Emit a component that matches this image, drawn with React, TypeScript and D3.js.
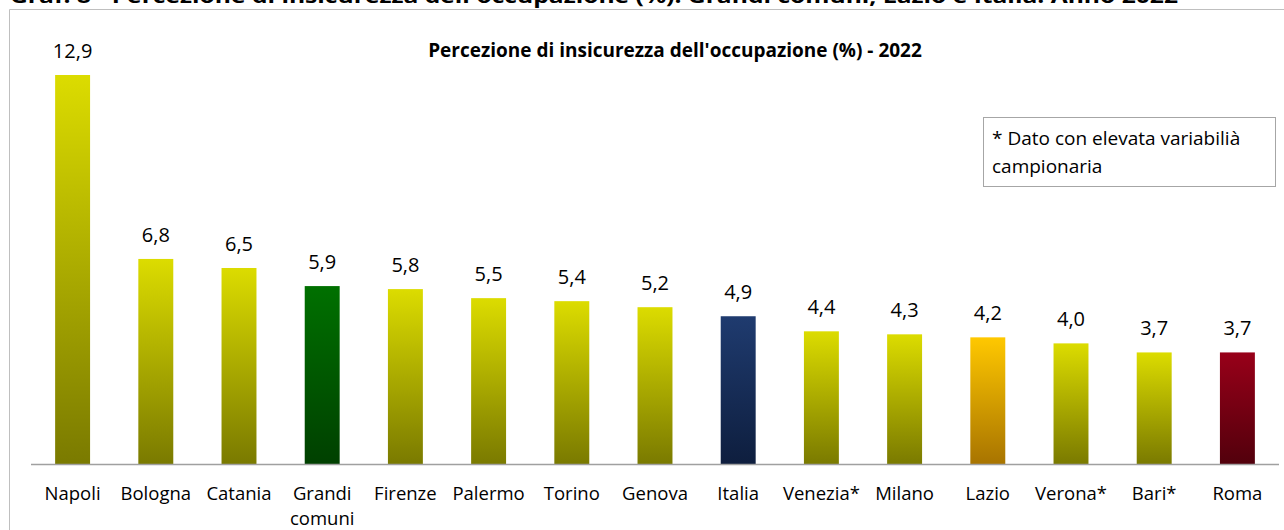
import React from "react";
import * as d3 from "d3";

const categories = ["Napoli", "Bologna", "Catania", "Grandi comuni", "Firenze", "Palermo", "Torino", "Genova", "Italia", "Venezia*", "Milano", "Lazio", "Verona*", "Bari*", "Roma"];
const values = [12.9, 6.8, 6.5, 5.9, 5.8, 5.5, 5.4, 5.2, 4.9, 4.4, 4.3, 4.2, 4.0, 3.7, 3.7];
const colorKeys = ["city", "city", "city", "grandi", "city", "city", "city", "city", "italia", "city", "city", "lazio", "city", "city", "roma"];

const gradients: Record<string, [string, string]> = {
  city: ["#DCDC00", "#7A7A00"],
  grandi: ["#007000", "#004000"],
  italia: ["#1F3B6F", "#0E1E3E"],
  lazio: ["#FFC800", "#A87400"],
  roma: ["#980019", "#52000C"],
};

const W = 1284;
const H = 530;
const FONT = "'Open Sans', 'Noto Sans', sans-serif";

export default function App() {
  const x = d3.scaleBand<string>().domain(categories).range([31, 1279]).paddingInner(0.58).paddingOuter(0.29);
  const baseY = 464;
  const y = d3.scaleLinear().domain([0, 12.9]).range([baseY, 75]);
  const fmt = (v: number) => v.toFixed(1).replace(".", ",");

  return (
    <svg width={W} height={H} style={{ position: "absolute", left: 0, top: 0, background: "#fff" }} fontFamily={FONT}>
      <defs>
        {Object.entries(gradients).map(([k, [c1, c2]]) => (
          <linearGradient key={k} id={`g-${k}`} x1="0" y1="0" x2="0" y2="1">
            <stop offset="0" stopColor={c1} />
            <stop offset="1" stopColor={c2} />
          </linearGradient>
        ))}
      </defs>
      <rect x={0} y={0} width={W} height={H} fill="#fff" />
      <text x={10} y={3} fontSize={20} fontWeight="bold" textLength={1168} lengthAdjust="spacingAndGlyphs" fill="#000">
        Graf. 8 - Percezione di insicurezza dell'occupazione (%). Grandi comuni, Lazio e Italia. Anno 2022
      </text>
      <line x1={9.5} y1={9.5} x2={W} y2={9.5} stroke="#BFBFBF" strokeWidth={1} />
      <line x1={9.5} y1={9.5} x2={9.5} y2={H} stroke="#BFBFBF" strokeWidth={1} />

      <text x={675} y={57} textAnchor="middle" fontSize={19} fontWeight="bold" fill="#000">
        Percezione di insicurezza dell'occupazione (%) - 2022
      </text>

      <rect x={983.5} y={117.5} width={292} height={69} fill="#fff" stroke="#A6A6A6" strokeWidth={1} />
      <text x={992} y={145} fontSize={19} fill="#000">* Dato con elevata variabilià</text>
      <text x={992} y={173} fontSize={19} fill="#000">campionaria</text>

      {categories.map((c, i) => {
        const bx = x(c)!;
        const by = y(values[i]);
        return (
          <g key={c}>
            <rect x={bx} y={by} width={x.bandwidth()} height={baseY - by} fill={`url(#g-${colorKeys[i]})`} />
            <text x={bx + x.bandwidth() / 2} y={by - 17} textAnchor="middle" fontSize={20} fill="#000">
              {fmt(values[i])}
            </text>
          </g>
        );
      })}
      <line x1={31} y1={baseY + 0.5} x2={1279} y2={baseY + 0.5} stroke="#A0A0A0" strokeWidth={1.5} />
      {categories.map((c) => {
        const cx = x(c)! + x.bandwidth() / 2;
        const parts = c === "Grandi comuni" ? ["Grandi", "comuni"] : [c];
        return (
          <text key={c} x={cx} y={500} textAnchor="middle" fontSize={18.5} fill="#000">
            {parts.map((p, j) => (
              <tspan key={j} x={cx} dy={j === 0 ? 0 : 25}>{p}</tspan>
            ))}
          </text>
        );
      })}
    </svg>
  );
}
